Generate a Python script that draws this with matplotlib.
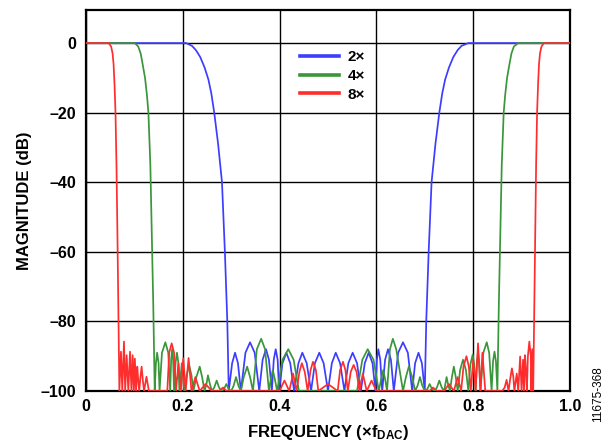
import matplotlib
matplotlib.use("Agg")
import matplotlib.pyplot as plt

# frequency (x fDAC) / magnitude (dB)
BLUE_2X_F = [
    0.000, 0.207, 0.219, 0.227, 0.236, 0.245, 0.253, 0.259, 0.265, 0.273, 0.281, 0.287, 0.292, 0.295,
    0.302, 0.308, 0.314, 0.320, 0.3295, 0.339, 0.3485, 0.358, 0.365, 0.372, 0.378, 0.384,
    0.388, 0.392, 0.396, 0.399, 0.406, 0.414, 0.422, 0.430, 0.439, 0.447, 0.456, 0.465,
    0.473, 0.482, 0.491, 0.500, 0.508, 0.516, 0.525, 0.534, 0.542, 0.551, 0.560, 0.568,
    0.576, 0.584, 0.592, 0.598, 0.601, 0.604, 0.608, 0.612, 0.618, 0.624, 0.630, 0.636,
    0.645, 0.655, 0.665, 0.674, 0.680, 0.687, 0.694, 0.700,
    0.703, 0.708, 0.714, 0.722, 0.730, 0.736, 0.742, 0.750, 0.759, 0.768, 0.776, 0.790, 1.000,
]
BLUE_2X_DB = [
    0, 0, -0.8, -2, -4, -7, -10.5, -14.5, -20, -29, -40, -60, -80, -100,
    -92, -89, -92, -100, -89, -86, -89, -100, -91, -88, -91, -100,
    -91, -88, -91, -100, -92, -89, -92, -100, -92, -89, -92, -100,
    -92, -89, -92, -100, -92, -89, -92, -100, -92, -89, -92, -100,
    -92, -89, -92, -100, -91, -88, -91, -100, -91, -88, -91, -100,
    -89, -86, -89, -100, -92, -89, -92, -100,
    -80, -60, -40, -29, -20, -14.5, -10.5, -7, -4, -2, -0.8, 0, 0,
]

GREEN_4X_F = [
    0.000, 0.101, 0.108, 0.113, 0.117, 0.122, 0.126, 0.129, 0.133, 0.136, 0.139, 0.142,
    0.1445, 0.147, 0.150, 0.152, 0.157, 0.164, 0.170, 0.174, 0.176, 0.178, 0.180, 0.182,
    0.185, 0.188, 0.191, 0.193, 0.196, 0.198, 0.200, 0.203, 0.208, 0.213, 0.218, 0.222,
    0.228, 0.235, 0.240, 0.245, 0.249, 0.252, 0.256, 0.260, 0.265, 0.270, 0.275, 0.280,
    0.285, 0.290, 0.295, 0.300, 0.305, 0.310, 0.315, 0.320, 0.326, 0.333, 0.339, 0.345,
    0.353, 0.362, 0.370, 0.378, 0.382, 0.386, 0.390, 0.395, 0.406, 0.418, 0.429, 0.440,
    0.560, 0.571, 0.582, 0.594, 0.605, 0.610, 0.614, 0.618, 0.622, 0.628, 0.634, 0.641,
    0.655, 0.661, 0.667, 0.674, 0.680, 0.685, 0.690, 0.695, 0.700, 0.705, 0.710, 0.715,
    0.720, 0.725, 0.730, 0.735, 0.740, 0.7425, 0.745, 0.748, 0.752, 0.756, 0.760, 0.764,
    0.768, 0.773, 0.779, 0.785, 0.790, 0.794, 0.799, 0.802, 0.805, 0.8075, 0.810, 0.8125,
    0.815, 0.821, 0.828, 0.833, 0.838, 0.841, 0.844, 0.847, 0.850,
    0.853, 0.856, 0.859, 0.863, 0.866, 0.870, 0.875, 0.879, 0.884, 0.893, 1.000,
]
GREEN_4X_DB = [
    0, 0, -1, -3, -6, -10, -15, -20, -35, -55, -75, -100,
    -92, -89, -92, -100, -89, -86, -89, -100, -91, -88, -91, -100,
    -92, -89, -92, -100, -95, -92, -95, -100, -95.5, -92.5, -95.5, -100,
    -96, -93, -96, -100, -98, -95.5, -98, -100, -99, -97, -99, -100,
    -99.5, -98, -99.5, -100, -98.5, -96, -98.5, -100, -96, -93, -96, -100,
    -88, -85, -88, -100, -96.5, -94, -96.5, -100, -91, -88, -91, -100,
    -100, -91, -88, -91, -100, -96.5, -94, -96.5, -100, -88, -85, -88,
    -100, -96, -93, -96, -100, -98.5, -96, -98.5, -100, -99.5, -98, -99.5,
    -100, -99, -97, -99, -100, -98, -96, -98, -100, -96, -93, -96,
    -100, -94, -91, -94, -100, -92.5, -89.5, -92.5, -100, -92, -89, -92,
    -100, -89, -86, -89, -100, -91.5, -88.7, -91.5, -100,
    -75, -55, -35, -20, -15, -10, -6, -3, -1, 0, 0,
]

RED_8X_F = [
    0.000, 0.047, 0.052, 0.055, 0.057, 0.059, 0.061, 0.063, 0.065, 0.067, 0.069,
    0.0723, 0.075, 0.0785, 0.081, 0.084, 0.0875, 0.091, 0.094, 0.0964, 0.099, 0.101,
    0.1035, 0.106, 0.108, 0.110, 0.1125, 0.115, 0.1175, 0.120, 0.125, 0.130, 0.140,
    0.168, 0.172, 0.177, 0.182, 0.186, 0.191, 0.196, 0.201, 0.206, 0.212, 0.218,
    0.226, 0.235, 0.247, 0.260, 0.275, 0.283, 0.290, 0.400, 0.410, 0.420, 0.428,
    0.435, 0.441, 0.446, 0.452, 0.458, 0.464, 0.469, 0.475, 0.480, 0.500, 0.520,
    0.525, 0.531, 0.536, 0.541, 0.547, 0.553, 0.559, 0.565, 0.572, 0.580, 0.590,
    0.600, 0.710, 0.717, 0.725, 0.740, 0.750, 0.760, 0.768, 0.775, 0.780, 0.786,
    0.791, 0.795, 0.800, 0.805, 0.810, 0.815, 0.819, 0.825, 0.860, 0.865, 0.869,
    0.873, 0.877, 0.880, 0.883, 0.885, 0.890, 0.893, 0.897, 0.900, 0.903, 0.905,
    0.907, 0.909, 0.911, 0.913, 0.916, 0.919, 0.920, 0.922, 0.924,
    0.926, 0.928, 0.930, 0.932, 0.934, 0.936, 0.938, 0.941, 0.946, 1.000,
]
RED_8X_DB = [
    0, 0, -1, -3, -6, -12, -20, -35, -55, -78, -100,
    -88.7, -100, -85.8, -100, -89.7, -100, -88.7, -100, -89.7, -100, -90.7,
    -100, -93, -97, -100, -96, -93, -97, -100, -95.9, -100, -100,
    -100, -89, -86.3, -89, -100, -92, -100, -90.6, -100, -90.5, -100,
    -96, -100, -98, -100, -100, -99, -100, -100, -97, -100, -95,
    -100, -94.5, -92, -94.5, -100, -94, -91.6, -94, -100, -98, -100,
    -94, -91.6, -94, -100, -94.5, -92.5, -94.5, -100, -95, -100, -97,
    -100, -100, -99, -100, -100, -98, -100, -96, -100, -93, -90,
    -93, -100, -91, -100, -86.3, -100, -89, -100, -100, -99, -96.8,
    -100, -96, -93.5, -96, -100, -95, -100, -90.1, -100, -91, -100,
    -89.7, -94, -100, -90, -85.8, -90, -100, -88, -100,
    -78, -55, -35, -20, -12, -6, -3, -1, 0, 0,
]

SERIES_LABELS = ["2×", "4×", "8×"]
SERIES_COLORS = ["#3d3dff", "#3a963a", "#ff2d2d"]

X_TICKS = [0, 0.2, 0.4, 0.6, 0.8, 1.0]
X_TICK_LABELS = ["0", "0.2", "0.4", "0.6", "0.8", "1.0"]
Y_TICKS = [-100, -80, -60, -40, -20, 0]
Y_TICK_LABELS = ["–100", "–80", "–60", "–40", "–20", "0"]


def main() -> None:
    plt.rcParams["font.family"] = ["Liberation Sans", "DejaVu Sans"]
    plt.rcParams["mathtext.fontset"] = "custom"
    plt.rcParams["mathtext.rm"] = "Liberation Sans"
    plt.rcParams["mathtext.bf"] = "Liberation Sans:bold"

    fig = plt.figure(figsize=(6.08, 4.43), dpi=100)
    ax = fig.add_axes([0.1414, 0.1174, 0.7961, 0.8600])

    series = [
        (BLUE_2X_F, BLUE_2X_DB),
        (GREEN_4X_F, GREEN_4X_DB),
        (RED_8X_F, RED_8X_DB),
    ]
    for (f, db), label, color in zip(series, SERIES_LABELS, SERIES_COLORS):
        ax.plot(f, db, color=color, linewidth=1.25, label=label, zorder=3)

    ax.set_xlim(0, 1.0)
    ax.set_ylim(-100, 9.5)
    ax.set_xticks(X_TICKS)
    ax.set_xticklabels(X_TICK_LABELS, fontweight="bold", fontsize=11.5)
    ax.set_yticks(Y_TICKS)
    ax.set_yticklabels(Y_TICK_LABELS, fontweight="bold", fontsize=11.5)
    ax.tick_params(axis="y", length=0, pad=7)
    ax.tick_params(axis="x", length=0, pad=6)
    ax.grid(True, color="black", linewidth=1.0, zorder=1)
    ax.set_axisbelow(True)
    for spine in ax.spines.values():
        spine.set_linewidth(1.6)
        spine.set_color("black")

    ax.set_xlabel(r"FREQUENCY (×$\mathbf{f_{DAC}}$)", fontweight="bold", fontsize=12, labelpad=6)
    ax.set_ylabel("MAGNITUDE (dB)", fontweight="bold", fontsize=12, labelpad=6)

    leg = ax.legend(
        loc="upper left", bbox_to_anchor=(0.413, 0.93), frameon=False,
        handlelength=2.6, labelspacing=0.3, handletextpad=0.55,
        prop={"weight": "bold", "size": 11},
    )
    for line in leg.get_lines():
        line.set_linewidth(2.6)

    fig.text(0.9836, 0.111, "11675-368", rotation=90, fontsize=8.5, ha="center", va="center")

    fig.savefig("out.png", dpi=100)


if __name__ == "__main__":
    main()
